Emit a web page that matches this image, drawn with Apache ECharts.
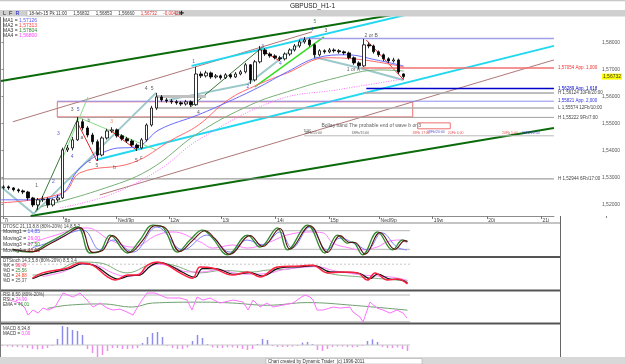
<!DOCTYPE html>
<html><head><meta charset="utf-8">
<script src="https://cdn.jsdelivr.net/npm/echarts@6/dist/echarts.min.js"></script>
<style>html,body{margin:0;padding:0;background:#fff}#c{width:625px;height:364px}</style>
</head><body><div id="c"></div>
<script>
// ---------- price bars (H1) ----------
const barOpen  = [1.5262,1.5265,1.5261,1.5254,1.5250,1.5246,1.5224,1.5198,1.5217,1.5220,1.5198,1.5217,1.5224,1.5402,1.5409,1.5439,1.5506,1.5483,1.5457,1.5432,1.5383,1.5446,1.5472,1.5476,1.5454,1.5443,1.5435,1.5420,1.5409,1.5439,1.5494,1.5557,1.5598,1.5587,1.5583,1.5580,1.5576,1.5572,1.5580,1.5569,1.5683,1.5676,1.5687,1.5672,1.5676,1.5669,1.5680,1.5672,1.5683,1.5691,1.5717,1.5661,1.5728,1.5772,1.5757,1.5750,1.5743,1.5739,1.5757,1.5772,1.5787,1.5802,1.5809,1.5791,1.5754,1.5769,1.5765,1.5772,1.5769,1.5765,1.5761,1.5743,1.5724,1.5713,1.5791,1.5787,1.5765,1.5754,1.5739,1.5731,1.5735,1.56832];
const barClose = [1.5265,1.5261,1.5254,1.5250,1.5246,1.5224,1.5198,1.5217,1.5220,1.5198,1.5217,1.5224,1.5402,1.5409,1.5439,1.5506,1.5483,1.5457,1.5432,1.5383,1.5446,1.5472,1.5476,1.5454,1.5443,1.5435,1.5420,1.5409,1.5439,1.5494,1.5557,1.5598,1.5587,1.5583,1.5580,1.5576,1.5572,1.5580,1.5569,1.5683,1.5676,1.5687,1.5672,1.5676,1.5669,1.5680,1.5672,1.5683,1.5691,1.5717,1.5661,1.5728,1.5772,1.5757,1.5750,1.5743,1.5739,1.5757,1.5772,1.5787,1.5802,1.5809,1.5791,1.5754,1.5769,1.5765,1.5772,1.5769,1.5765,1.5761,1.5743,1.5724,1.5713,1.5791,1.5787,1.5765,1.5754,1.5739,1.5731,1.5735,1.5690,1.56732];
const barLow   = [1.5255,1.5254,1.5248,1.5243,1.5238,1.5215,1.5190,1.5180,1.5209,1.5187,1.5192,1.5210,1.5220,1.5394,1.5400,1.5435,1.5474,1.5448,1.5422,1.5361,1.5378,1.5440,1.5465,1.5447,1.5436,1.5428,1.5413,1.5398,1.5404,1.5433,1.5488,1.5550,1.5580,1.5576,1.5572,1.5569,1.5565,1.5566,1.5561,1.5565,1.5668,1.5670,1.5665,1.5666,1.5662,1.5664,1.5666,1.5668,1.5678,1.5685,1.5646,1.5655,1.5722,1.5750,1.5743,1.5737,1.5731,1.5733,1.5750,1.5766,1.5780,1.5795,1.5784,1.5743,1.5748,1.5758,1.5760,1.5762,1.5758,1.5754,1.5736,1.5717,1.5702,1.5709,1.5778,1.5758,1.5746,1.5731,1.5724,1.5725,1.5683,1.56660];
const barHigh  = [1.5271,1.5270,1.5264,1.5259,1.5255,1.5250,1.5228,1.5224,1.5231,1.5226,1.5222,1.5235,1.5410,1.5420,1.5450,1.5524,1.5515,1.5490,1.5465,1.5440,1.5452,1.5480,1.5486,1.5481,1.5460,1.5450,1.5441,1.5426,1.5446,1.5500,1.5565,1.5613,1.5605,1.5594,1.5590,1.5587,1.5582,1.5587,1.5585,1.5709,1.5692,1.5695,1.5692,1.5683,1.5681,1.5686,1.5685,1.5690,1.5698,1.5724,1.5720,1.5735,1.5787,1.5778,1.5763,1.5756,1.5750,1.5763,1.5778,1.5794,1.5810,1.5820,1.5815,1.5796,1.5775,1.5774,1.5779,1.5778,1.5775,1.5770,1.5766,1.5748,1.5730,1.5813,1.5800,1.5792,1.5770,1.5759,1.5745,1.5743,1.5740,1.56853];
const lastClose = 1.56732;

// ---------- moving averages [bar index, price] ----------
const ma1 = [[-0.5,1.5217],[5.5,1.5217],[11.5,1.5235],[15.5,1.5335],[21.5,1.5402],[27.5,1.5417],[31.5,1.5476],[39.5,1.5532],[45.5,1.5580],[51.5,1.5632],[57.5,1.5691],[63.5,1.5743],[69.5,1.5754],[75.5,1.5735],[81,1.5713]];
const ma2 = [[-0.5,1.5206],[12.1,1.5243],[15.5,1.5317],[26.1,1.5354],[34.1,1.5439],[39.5,1.5494],[45.5,1.5587],[51.5,1.5643],[57.5,1.5687],[65.5,1.5743],[72.9,1.5735],[81.1,1.5709]];
const ma3 = [[7.5,1.5191],[19.5,1.5254],[29.5,1.5328],[39.5,1.5465],[50.1,1.5569],[57.5,1.5617],[67.5,1.5669],[76.1,1.5698],[81.1,1.5694]];
const ma4 = [[11.5,1.5187],[21.5,1.5235],[31.5,1.5328],[39.5,1.5439],[55.5,1.5587],[67.5,1.5624],[77.5,1.5654],[81.1,1.5665]];

// ---------- drawn trend lines [bar index, price] ----------
const greenTop    = [[-0.5,1.5657],[79.5,1.5904]];
const greenBottom = [[5.5,1.5157],[111.5,1.5483]];
const roseA       = [[1.9,1.5506],[62.5,1.5839]];
const roseB       = [[19.5,1.5235],[111.5,1.5735]];
const cyanUp      = [[38.1,1.5713],[81.5,1.5902]];
const cyanLow     = [[18.9,1.5365],[111.5,1.5787]];
const waveA = [[-0.5,1.5265],[6.1,1.5165],[30.9,1.5613]];
const waveB = [[33.5,1.5587],[49.5,1.5646],[61.5,1.5815]];
const waveC = [[62.9,1.5746],[71.9,1.5706],[81,1.5661]];
const lime1 = [[50.9,1.5635],[64.9,1.5820]];
const dgreen1 = [[6.5,1.5172],[15.1,1.5520]];
const dgreen2 = [[37.9,1.5561],[52.5,1.5783]];
const lgreen1 = [[15.5,1.5520],[30.9,1.5402]];
const lgreen2 = [[12.1,1.5376],[17.1,1.5598]];
const red1 = [[14.9,1.5506],[18.9,1.5361]];
const red2 = [[21.5,1.5476],[26.9,1.5402]];
const red3 = [[52.5,1.5769],[55.9,1.5732]];
const red4 = [[73.5,1.5809],[81.1,1.5661]];
const grayBand = [[31,1.5600],[41,1.5600]];

// ---------- horizontal levels ----------
const levelPrice = [1.58148,1.57054,1.56289,1.56124,1.55821,1.55574,1.55222,1.52944];
const levelStart = [60,72.5,73.5,73,10.9,31,10.9,-0.5];
const levelText  = ['','1,57054 App. 1,000','1,56289 App. 1,618','H 1,56124 10Fb/20:00','1,55821 App. 2,000','L 1,55574 12Fb/10:00','H 1,55222 9Fb/7:00','H 1,52944 6Fb/17:00'];
const timeLine = [[60.9,1.5454],[111.5,1.5454]];
const boxBig = [[10.9,1.5580],[82.9,1.5524]];
const boxSmall = [[83.9,1.5502],[90.5,1.5480]];

// ---------- annotations [bar index, price, text, kind] ----------
const waveLabels = [
 [6.7,1.5268,'1','d'],[10.1,1.5283,'2','b'],[11.1,1.5461,'3','b'],[13.9,1.5376,'4','b'],
 [13.9,1.5550,'3','d'],[15.1,1.5550,'5','b'],[15.9,1.5446,'a','d'],[17.3,1.5509,'b','d'],
 [17.5,1.5357,'c','d'],[18.9,1.5343,'5','d'],[21.9,1.5506,'3','o'],[22.5,1.5335,'b','d'],
 [26.9,1.5361,'5','d'],[27.9,1.5372,'c','d'],[28.9,1.5628,'4','d'],[30.1,1.5628,'5','d'],
 [38.5,1.5728,'1','b'],[39.5,1.5539,'4','d'],[49.5,1.5635,'2','b'],[52.5,1.5783,'3','b'],
 [56.1,1.5720,'4','b'],[63.1,1.5876,'5','g'],[62.5,1.5846,'4','b'],[65.3,1.5843,'3','d'],
 [74.5,1.5824,'2 or B','d'],[70.9,1.5698,'1 or A','d'],
 [74.5,1.5491,'Bollay band The probable end of wave b or 3','d']
];
const timeMarks = [
 [61.5,1.5472,'TOR','d'],[62.7,1.5464,'18Fb/15:00','d'],[72.3,1.5464,'18Fb/15:00','d'],
 [84.6,1.5464,'18Fb 17:00','r'],[87.6,1.5469,'19Fb/20:00','b'],[91.6,1.5464,'20Fb 6:00','r'],
 [102.6,1.5464,'20Fb 5:00','r'],[106.8,1.5464,'20Fb/20:00','b']
];

// ---------- axes ticks ----------
const dayTickIdx = [-0.1,12.1,22.9,33.5,44.1,55.1,65.9,76.1,86.9,97.9,108.9];
const dayLabels = ['7i','8p','Ned/9p','12w','13i','14i','15p','Ned/9p','19w','20i','21i'];
const priceTicks = [1.52,1.53,1.54,1.55,1.56,1.57,1.58];

// ---------- indicators [bar index, value] ----------
const oscGreen = [[2,18],[5.5,11],[9,40],[12,66],[15,92],[17.5,8],[19.5,14],[21.5,66],[25,8],[27.5,50],[30,98],[32,92],[35,11],[37.5,50],[40,82],[42,56],[45,2],[49,66],[51.5,27],[55,89],[57,18],[61,98],[64.5,8],[67,66],[69,40],[70,44],[72,2],[75,76],[78,18],[80,50],[81,44]];
const oscDark  = [[2,20],[6,12],[9.5,38],[12.5,64],[15.5,90],[18,10],[20,16],[22,64],[25.5,10],[28,48],[30.5,96],[32.5,90],[35.5,13],[38,48],[40.5,80],[42.5,54],[45.5,4],[49.5,64],[52,29],[55.5,87],[57.5,20],[61.5,96],[65,10],[67.5,64],[69.5,42],[70.5,42],[72.5,4],[75.5,74],[78.5,20],[80.5,48],[81,46]];
const oscBlue  = [[6,25],[9.5,43],[16.1,82],[19.5,18],[22.1,50],[26.1,11],[30.9,92],[36.1,18],[40.9,66],[45.5,11],[48.9,50],[52.1,34],[55.5,76],[57.9,24],[61.5,92],[64.9,18],[67.5,56],[70.9,34],[72.9,18],[75.9,73],[78.9,27],[80.9,18]];
const oscMag   = [[5,35],[9.5,60],[16.9,89],[21.5,50],[26.1,27],[30.9,66],[34.1,76],[39.5,44],[42.1,24],[46.1,34],[48.9,24],[52.9,40],[56.9,66],[61.5,76],[64.1,73],[66.1,40],[69.5,24],[71.5,18],[74.9,27],[76.9,44],[79.5,50],[80.9,40]];
const oscGuide = [80,20];

const stoRed   = [[6,35],[8,52],[13,68],[15.5,84],[18,77],[21,39],[22.5,29],[25,45],[27,45],[29,77],[31,87],[33,77],[35.5,52],[38,35],[39.5,71],[42,68],[46,45],[49,55],[51.5,39],[55,71],[59.5,74],[62,77],[65,52],[68,55],[71,52],[73,29],[74.5,52],[77,29],[79,32],[81,16]];
const stoBlack = [[6,33],[8.5,48],[13.5,66],[16,82],[18.5,75],[21.5,42],[23,32],[25.5,43],[27.5,45],[29.5,73],[31.5,85],[33.5,76],[36,54],[38.5,38],[40,66],[42.5,66],[46.5,47],[49.5,53],[52,42],[55.5,68],[60,72],[62.5,75],[65.5,55],[68.5,54],[71.5,50],[73.5,33],[75,48],[77.5,32],[79.5,30],[81,20]];
const stoMag   = [[8,40],[12,55],[16,80],[19,75],[22,52],[25,40],[28,55],[31,80],[34,72],[37,55],[40,55],[43,62],[47,50],[50,48],[53,50],[56,62],[60,70],[63,72],[66,60],[69,52],[72,45],[75,42],[78,38],[81,28]];
const stoGreen = [[6,45],[10,52],[15.5,87],[19.5,84],[24.9,52],[30.9,84],[34.1,77],[39.5,52],[44,60],[50,55],[52.9,61],[57,64],[62.1,77],[64.9,52],[71.5,39],[78.9,29],[81,26]];
const stoGuide = [80];

const rsiLine = [[1.5,68.8],[3.5,62],[4.5,50.8],[5.1,35],[6.1,46.3],[7.1,39.6],[8.1,50.8],[9.1,46.3],[10.5,53],[12.1,84.5],[14.1,75.5],[15.5,84.5],[16.9,68.8],[18.1,53],[19.5,62],[20.9,50.8],[22.1,46.3],[23.5,48.5],[24.9,41.8],[26.1,35],[26.9,50.8],[27.9,68.8],[28.9,84.5],[30.5,84.5],[32.9,73.3],[35.5,73.3],[36.9,68.8],[37.9,46.3],[38.9,75.5],[40.1,68.8],[41.5,73.3],[43.5,62],[46.1,68.8],[48.1,64.3],[49.1,46.3],[50.1,68.8],[51.5,53],[52.9,62],[54.1,53],[56.1,57.5],[58.1,62],[59.5,73.3],[60.5,80],[61.5,75.5],[62.1,68.8],[62.9,46.3],[64.1,46.3],[66.1,53],[67.5,50.8],[69.5,53],[70.1,41.8],[71.5,30.6],[72.1,19.3],[73.5,64.3],[74.9,50.8],[76.1,46.3],[77.5,39.6],[78.9,46.3],[80.1,39.6],[80.9,28.3]];
const rsiEma  = [[9,50],[13,57],[20,60],[26,53],[30,62],[40,64],[46,62],[53,57],[61,63],[70,57],[81,46]];
const rsiGuide = [80,20];

const macdHist = [-0.05,-0.08,-0.1,-0.1,-0.12,-0.15,-0.2,-0.22,-0.2,-0.15,-0.05,0.3,0.95,0.9,0.75,0.7,0.5,-0.2,-0.4,-0.6,-0.5,-0.3,-0.15,-0.15,-0.2,-0.2,-0.18,-0.15,0.1,0.4,0.6,0.65,0.4,-0.05,-0.15,-0.2,-0.2,-0.12,0.2,0.5,0.35,0.05,-0.12,-0.15,-0.15,-0.12,-0.12,-0.15,-0.2,-0.25,-0.2,0.05,0.3,0.25,-0.05,-0.1,-0.1,-0.1,-0.08,-0.05,0.12,0.15,0.05,-0.25,-0.3,-0.2,-0.1,-0.08,-0.08,-0.1,-0.12,-0.1,-0.05,0.2,0.28,0.15,-0.1,-0.15,-0.15,-0.12,-0.2,-0.3];

// ---------- build ----------
const FONT = 'Liberation Sans';
const cats = Array.from({length:112}, (_, i) => String(i));
const dataEnd = 81.5;
const fmtP = v => v.toFixed(5).replace('.', ',');

function ln(data, color, width, xi, yi, extra) {
  return Object.assign({type:'line', xAxisIndex:xi, yAxisIndex:yi, data:data, symbol:'none',
    lineStyle:{color:color, width:width}, silent:true, animation:false, z:2}, extra || {});
}
const series = [];
series.push(ln(greenTop,'#0b6b0b',2,1,0));
series.push(ln(greenBottom,'#0b6b0b',2,1,0));
series.push(ln(roseA,'#b07878',1,1,0));
series.push(ln(roseB,'#b07878',1,1,0));
series.push(ln(cyanUp,'#22d8f0',2,1,0));
series.push(ln(cyanLow,'#22d8f0',2,1,0));
[waveA,waveB,waveC].forEach(w => series.push(ln(w,'#9cc8cc',2,1,0)));
series.push(ln(lime1,'#33dd22',1.5,1,0));
series.push(ln(dgreen1,'#3a7a3a',1,1,0));
series.push(ln(dgreen2,'#3a7a3a',1,1,0));
series.push(ln(lgreen1,'#88dd88',1,1,0));
series.push(ln(lgreen2,'#88dd88',1,1,0));
[red1,red2,red3,red4].forEach(w => series.push(ln(w,'#ee2222',1,1,0)));
series.push(ln(grayBand,'#c0c0c0',3,1,0));
const levelColor = ['#a0a0e8','#f07070','#0000c8','#a8a8a8','#9090f0','#b0b0b0','#a0a0a0','#888888'];
const levelLabelColor = ['#666','#f03030','#0000c8','#444','#3030e0','#444','#444','#444'];
const levelWidth = [1.5,1.5,1.5,1.5,1,1.5,1,1];
levelPrice.forEach((p, k) => {
  series.push(ln([[levelStart[k], p],[111.5, p]], levelColor[k], levelWidth[k], 1, 0, {
    endLabel:{show: levelText[k] !== '', formatter: levelText[k], fontSize:4.5, fontFamily:FONT, color:levelLabelColor[k], distance:4}
  }));
});
series.push(ln(timeLine,'#b8b8b8',1,1,0));
series.push({type:'line', xAxisIndex:1, yAxisIndex:0, data:[], silent:true, animation:false,
  markArea:{silent:true, itemStyle:{color:'rgba(255,255,255,0)', borderColor:'#f07070', borderWidth:1},
    data:[[{coord:boxBig[0]},{coord:boxBig[1]}],[{coord:boxSmall[0]},{coord:boxSmall[1]}]]}});
series.push(ln(ma4,'#ff70ff',1,1,0,{smooth:0.4, lineStyle:{color:'#ff70ff', width:1, type:[1,1.5]}}));
series.push(ln(ma3,'#78b078',1,1,0,{smooth:0.4}));
series.push(ln(ma2,'#ff6a6a',1,1,0,{smooth:0.4}));
series.push(ln(ma1,'#6a6aff',1,1,0,{smooth:0.4}));
series.push({type:'candlestick', xAxisIndex:0, yAxisIndex:0, barWidth:3, z:5, animation:false,
  data: barOpen.map((o, i) => [o, barClose[i], barLow[i], barHigh[i]]),
  itemStyle:{color:'#ffffff', color0:'#000000', borderColor:'#000000', borderColor0:'#000000', borderWidth:0.8}});
const kindColor = {d:'#333333', b:'#3030d0', o:'#e07020', g:'#2a7a2a', r:'#e03030'};
function textSeries(list, size) {
  return {type:'scatter', xAxisIndex:1, yAxisIndex:0, symbol:'rect', symbolSize:1, itemStyle:{color:'rgba(0,0,0,0)'}, z:8, silent:true, animation:false,
    data: list.map(w => ({value:[w[0], w[1]], name:w[2], label:{color:kindColor[w[3]]}})),
    label:{show:true, position:'inside', formatter:'{b}', fontSize:size, fontFamily:FONT}, labelLayout:{hideOverlap:false}};
}
series.push(textSeries(waveLabels, 5));
series.push(textSeries(timeMarks, 3.5));

function guides(vals, xi, yi, color, type) {
  vals.forEach(v => series.push(ln([[-0.5, v],[dataEnd, v]], color, 1, xi, yi, {lineStyle:{color:color, width:1, type:type||'solid'}})));
}
guides(oscGuide, 2, 1, '#b4b4b4');
series.push(ln(oscMag,'#ff80ff',1,2,1,{smooth:0.4}));
series.push(ln(oscBlue,'#8080ff',1,2,1,{smooth:0.4}));
series.push(ln(oscGreen,'#2e8b2e',1.3,2,1,{smooth:0.4}));
series.push(ln(oscDark,'#5a1010',1.1,2,1,{smooth:0.4}));

guides(stoGuide, 3, 2, '#c8c8c8', [2,2]);
series.push(ln(stoGreen,'#80b080',1,3,2,{smooth:0.4}));
series.push(ln(stoMag,'#ff80ff',1,3,2,{smooth:0.4}));
series.push(ln(stoBlack,'#111111',1.2,3,2,{smooth:0.4}));
series.push(ln(stoRed,'#ff2040',1.5,3,2,{smooth:0.4}));

guides(rsiGuide, 4, 3, '#b4b4b4');
series.push(ln(rsiEma,'#70a070',1,4,3,{smooth:0.4}));
series.push(ln(rsiLine,'#ff70ff',1,4,3));

guides([0], 5, 4, '#c8c8c8');
series.push({type:'bar', xAxisIndex:5, yAxisIndex:4, barWidth:1.5, animation:false, silent:true,
  data: macdHist.map((v, i) => [i, v]),
  itemStyle:{color: p => p.value[1] >= 0 ? '#8c8cf0' : '#f08cf0'}});

const hx = (gi) => ({type:'value', gridIndex:gi, min:-0.5, max:111.5, show:false});
const option = {
  backgroundColor:'#ffffff',
  animation:false,
  textStyle:{fontFamily:FONT},
  grid:[
    {left:0, top:17, width:560, height:199},
    {left:0, top:224.5, width:560, height:31},
    {left:0, top:258, width:560, height:31},
    {left:0, top:291, width:560, height:33},
    {left:0, top:323.5, width:560, height:33.5}
  ],
  xAxis:[
    {type:'category', gridIndex:0, data:cats, boundaryGap:true, show:false, position:'top'},
    {type:'value', gridIndex:0, min:-0.5, max:111.5, position:'bottom',
      axisLine:{show:true, lineStyle:{color:'#8c8c8c'}},
      axisTick:{show:true, customValues:dayTickIdx, length:3, lineStyle:{color:'#777'}},
      axisLabel:{customValues:dayTickIdx, fontSize:5, color:'#444', margin:2, align:'left',
        formatter: v => { let best=0; dayTickIdx.forEach((t,k)=>{ if (Math.abs(t-v) < Math.abs(dayTickIdx[best]-v)) best=k; }); return ' ' + dayLabels[best]; }},
      splitLine:{show:false}},
    hx(1), hx(2), hx(3), hx(4)
  ],
  yAxis:[
    {type:'value', gridIndex:0, min:1.5157, max:1.5894, position:'right', offset:46,
      axisLine:{show:true, lineStyle:{color:'#9a9a9a'}},
      axisTick:{show:true, customValues:priceTicks, length:2, inside:true, lineStyle:{color:'#888'}},
      axisLabel:{customValues:priceTicks.concat([lastClose]), fontSize:5, color:'#555', margin:2,
        formatter: v => Math.abs(v - lastClose) < 1e-7 ? '{hl|' + fmtP(v) + '}' : fmtP(v),
        rich:{hl:{backgroundColor:'#ffff00', color:'#333', fontSize:5, padding:[1,1,0,1]}}},
      splitLine:{show:false}},
    {type:'value', gridIndex:1, min:0, max:100, show:false},
    {type:'value', gridIndex:2, min:0, max:100, show:false},
    {type:'value', gridIndex:3, min:15, max:89, show:false},
    {type:'value', gridIndex:4, min:-0.6, max:1.075, show:false}
  ],
  series: series,
  graphic: buildGraphic()
};

function rt(left, top, parts, size) {
  const rich = {}; let text = '';
  parts.forEach((p, k) => { rich['p'+k] = {fill:p[1], fontSize:size||5, fontFamily:FONT}; text += '{p'+k+'|' + p[0] + '}'; });
  return {type:'text', left:left, top:top, z:100, silent:true, style:{text:text, rich:rich, fontSize:size||5, fontFamily:FONT}};
}
function rect(x, y, w, h, fill, stroke, lw) {
  return {type:'rect', shape:{x:x, y:y, width:w, height:h}, z:90, silent:true, style:{fill:fill, stroke:stroke||null, lineWidth:lw||0}};
}
function hline(x1, x2, y, color, w) {
  return {type:'line', shape:{x1:x1, y1:y, x2:x2, y2:y}, z:95, silent:true, style:{stroke:color, lineWidth:w}};
}
function vline(x, y1, y2, color, w) {
  return {type:'line', shape:{x1:x, y1:y1, x2:x, y2:y2}, z:95, silent:true, style:{stroke:color, lineWidth:w}};
}
function buildGraphic() {
  const g = [];
  g.push(rect(0, 0, 625, 1.2, '#c8c8c8'));
  g.push({type:'text', left:'center', top:2.5, z:100, silent:true, style:{text:'GBPUSD_H1-1', fontSize:6.5, fontFamily:FONT, fill:'#222'}});
  g.push(rect(0, 10, 625, 6.5, '#cfcfcf'));
  g.push(rect(27, 10.5, 148, 5.5, '#ffffff', '#9a9a9a', 0.5));
  g.push(rt(3, 10.7, [['L','#222'],['  ','#222'],['F','#222'],['  ','#222'],['R','#2020c0']], 5.5));
  g.push(rt(29, 11.2, [['18-feb-15 Pk 11:00     1,56832     1,56853     1,56660     ','#333'],['1,56732     -0,00421','#e03030']], 4.5));
  g.push({type:'text', left:179, top:10.2, z:100, silent:true, style:{text:'✚', fontSize:5.5, fill:'#222'}});
  g.push(rt(3, 17.8, [['MA1 = ','#333'],['1,57126','#5a5aff']]));
  g.push(rt(3, 22.8, [['MA2 = ','#333'],['1,57313','#ff4040']]));
  g.push(rt(3, 27.8, [['MA3 = ','#333'],['1,57804','#2e8b2e']]));
  g.push(rt(3, 32.8, [['MA4 = ','#333'],['1,56800','#ff40ff']]));
  g.push(hline(0, 560, 223, '#8a8a8a', 1));
  g.push(hline(0, 560, 257, '#555555', 2));
  g.push(hline(0, 560, 290.5, '#555555', 2));
  g.push(hline(0, 560, 323.5, '#555555', 2));
  g.push(vline(560.5, 216, 357, '#666666', 1));
  g.push(vline(0.5, 17, 357, '#777777', 1));
  g.push(vline(606.5, 216, 218, '#888888', 1));
  g.push(rect(0, 357, 625, 7, '#d8d8d8'));
  g.push(rect(266, 358.5, 156, 5.5, '#ffffff', '#a0a0a0', 0.5));
  g.push(rt(268, 358.8, [['Chart created by Dynamic Trader  (c) 1996-2011','#333']], 4.5));
  g.push(rt(3, 224.3, [['DTOSC 21,13,8,8 (80%-20%) 14,8,5,3','#444']], 4.5));
  g.push(rt(3, 229.5, [['Moving1 = ','#333'],['14,85','#5a5aff']]));
  g.push(rt(3, 235.8, [['Moving2 = ','#333'],['26,00','#ff40ff']]));
  g.push(rt(3, 242.2, [['Moving3 = ','#333'],['37,50','#2e8b2e']]));
  g.push(rt(3, 248.3, [['Moving4 = ','#333'],['46,60','#8b1a1a']]));
  g.push(rt(3, 258.3, [['DTStoch 14,3,5,8 (80%-20%) 8,5,3,4','#444']], 4.5));
  g.push(rt(3, 263.3, [['%K = ','#333'],['96,49','#ff3060']], 4.5));
  g.push(rt(3, 268.3, [['%D = ','#333'],['25,56','#3a8a3a']], 4.5));
  g.push(rt(3, 273.3, [['%D = ','#333'],['24,88','#ff4020']], 4.5));
  g.push(rt(3, 278.3, [['%D = ','#333'],['25,37','#555']], 4.5));
  g.push(rt(3, 292, [['RSI 8,50 (80%-20%)','#444']], 4.5));
  g.push(rt(3, 297, [['RSI = ','#333'],['24,90','#ff40ff']], 4.5));
  g.push(rt(3, 302, [['EMA = ','#333'],['46,01','#2e8b2e']], 4.5));
  g.push(rt(3, 326, [['MACD 8,34,8','#444']], 4.5));
  g.push(rt(3, 331, [['MACD = ','#333'],['0,00','#ff40ff']], 4.5));
  return g;
}

const chart = echarts.init(document.getElementById('c'), null, {renderer:'canvas'});
chart.setOption(option);
</script>
</body></html>
